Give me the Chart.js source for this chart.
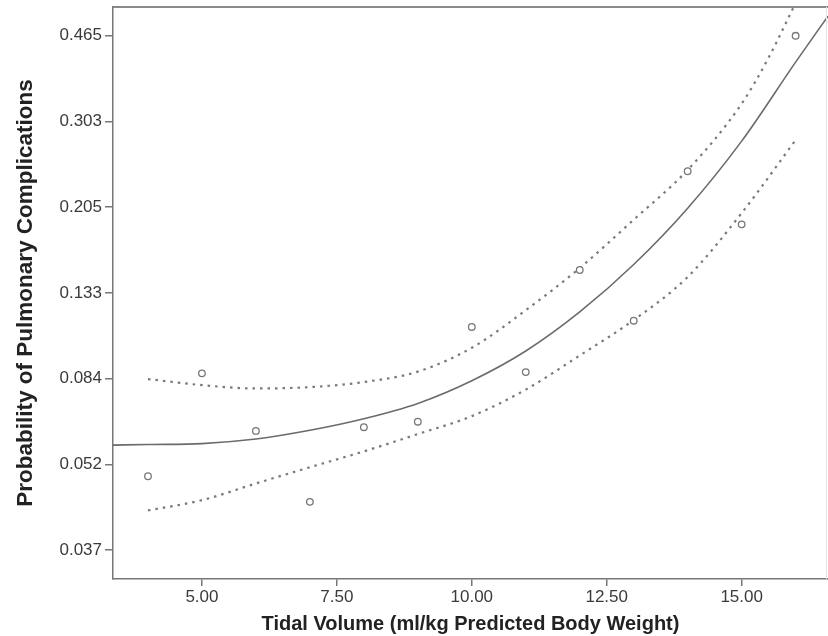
<!DOCTYPE html>
<html>
<head>
<meta charset="utf-8">
<script src="https://cdn.jsdelivr.net/npm/chart.js@4"></script>
<style>
    html, body { margin: 0; padding: 0; background: #fff; }
    #wrap { width: 828px; height: 636px; }
</style>
</head>
<body>
<div id="wrap"><canvas id="probChart"></canvas></div>
<script>
// y axis tick labels (probabilities, equally spaced on the axis)
const yTickLabels = [0.037, 0.052, 0.084, 0.133, 0.205, 0.303, 0.465];
const xTicks = [5, 7.5, 10, 12.5, 15];

// observed proportions
const obsVolume = [4, 5, 6, 7, 8, 9, 10, 11, 12, 13, 14, 15, 16];
const obsProb = [0.0496, 0.0864, 0.0627, 0.0448, 0.0640, 0.0660, 0.1108, 0.0870, 0.1493, 0.1146, 0.2415, 0.1880, 0.465];

// fitted curve
const fitVolume = [3.35, 4, 5, 6, 7, 8, 9, 10, 11, 12, 13, 14, 15, 16, 16.6];
const fitProb = [0.0579, 0.0581, 0.0584, 0.0599, 0.0629, 0.0671, 0.0731, 0.0830, 0.0974, 0.1201, 0.1535, 0.2040, 0.2771, 0.4077, 0.513];

// confidence limits
const upperVolume = [4, 5, 6, 7, 8, 9, 10, 11, 12, 13, 14, 15, 15.5, 16];
const upperProb = [0.0838, 0.0810, 0.0795, 0.0801, 0.0824, 0.0872, 0.0991, 0.1212, 0.1508, 0.1925, 0.2430, 0.3312, 0.4170, 0.548];
const lowerVolume = [4, 5, 6, 7, 8, 9, 10, 11, 12, 13, 14, 15, 16];
const lowerProb = [0.0433, 0.0451, 0.0482, 0.0514, 0.0559, 0.0616, 0.0681, 0.0790, 0.0951, 0.1150, 0.1442, 0.1990, 0.2784];

// probability -> axis position (ticks are evenly spaced, log-interpolated between them)
function toPos(p) {
    const t = yTickLabels;
    let i = 0;
    while (i < t.length - 2 && p > t[i + 1]) i++;
    return i + Math.log(p / t[i]) / Math.log(t[i + 1] / t[i]);
}

function pts(xs, ps) {
    return xs.map((x, i) => ({ x: x, y: toPos(ps[i]) }));
}

const framePlugin = {
    id: 'frame',
    afterDraw(chart) {
        const ctx = chart.ctx;
        const a = chart.chartArea;
        ctx.save();
        ctx.strokeStyle = '#8a8a8a';
        ctx.lineWidth = 2;
        ctx.beginPath();
        ctx.moveTo(a.left, a.top);
        ctx.lineTo(chart.width, a.top);
        ctx.stroke();
        ctx.strokeStyle = '#e2e2e2';
        ctx.lineWidth = 1;
        ctx.beginPath();
        ctx.moveTo(a.right - 1.5, a.top);
        ctx.lineTo(a.right - 1.5, a.bottom);
        ctx.stroke();
        ctx.restore();
    }
};

const fontFamily = '"Liberation Sans", Arial, Helvetica, sans-serif';
const lineCol = '#6b6b6b';
const dashCol = '#7a7a7a';

new Chart(document.getElementById('probChart'), {
    type: 'scatter',
    data: {
        datasets: [
            {
                label: 'Observed',
                data: pts(obsVolume, obsProb),
                showLine: false,
                pointRadius: 3.3,
                pointBorderWidth: 1.3,
                pointBorderColor: '#777',
                pointBackgroundColor: '#fff'
            },
            {
                label: 'Fit',
                data: pts(fitVolume, fitProb),
                showLine: true,
                borderColor: lineCol,
                borderWidth: 1.6,
                pointRadius: 0,
                cubicInterpolationMode: 'monotone'
            },
            {
                label: 'Upper',
                data: pts(upperVolume, upperProb),
                showLine: true,
                borderColor: dashCol,
                borderWidth: 2.2,
                borderDash: [2.5, 5],
                pointRadius: 0,
                cubicInterpolationMode: 'monotone'
            },
            {
                label: 'Lower',
                data: pts(lowerVolume, lowerProb),
                showLine: true,
                borderColor: dashCol,
                borderWidth: 2.2,
                borderDash: [2.5, 5],
                pointRadius: 0,
                cubicInterpolationMode: 'monotone'
            }
        ]
    },
    options: {
        responsive: true,
        maintainAspectRatio: false,
        animation: false,
        layout: { autoPadding: false, padding: { top: 7, right: 0, left: 0, bottom: 0 } },
        plugins: {
            legend: { display: false },
            tooltip: { enabled: false }
        },
        scales: {
            x: {
                type: 'linear',
                min: 3.352,
                max: 16.6,
                afterBuildTicks: function(s) {
                    s.ticks = xTicks.map(v => ({ value: v }));
                },
                afterFit: function(s) {
                    s.height = 57;
                    s.paddingLeft = 0;
                    s.paddingRight = 0;
                },
                ticks: {
                    callback: function(value) { return value.toFixed(2); },
                    font: { family: fontFamily, size: 17 },
                    color: '#3a3a3a',
                    padding: 1,
                    maxRotation: 0,
                    autoSkip: false
                },
                grid: {
                    drawOnChartArea: false,
                    drawTicks: true,
                    tickLength: 7,
                    color: '#777',
                    lineWidth: 1.5
                },
                border: { color: '#777', width: 1.5 },
                title: {
                    display: true,
                    text: 'Tidal Volume (ml/kg Predicted Body Weight)',
                    font: { family: fontFamily, size: 20, weight: 'bold' },
                    color: '#222',
                    padding: { top: 0, bottom: 0 }
                }
            },
            y: {
                type: 'linear',
                min: -0.338,
                max: 6.336,
                afterBuildTicks: function(s) {
                    s.ticks = yTickLabels.map((v, i) => ({ value: i }));
                },
                afterFit: function(s) {
                    s.width = 113;
                    s.paddingTop = 0;
                    s.paddingBottom = 0;
                },
                ticks: {
                    callback: function(value, index) { return yTickLabels[index].toFixed(3); },
                    font: { family: fontFamily, size: 17 },
                    color: '#3a3a3a',
                    padding: 3
                },
                grid: {
                    drawOnChartArea: false,
                    drawTicks: true,
                    tickLength: 8,
                    color: '#777',
                    lineWidth: 1.5
                },
                border: { color: '#777', width: 1.5 },
                title: {
                    display: true,
                    text: 'Probability of Pulmonary Complications',
                    font: { family: fontFamily, size: 22.5, weight: 'bold' },
                    color: '#222',
                    padding: { top: 12, bottom: 0 }
                }
            }
        }
    },
    plugins: [framePlugin]
});
</script>
</body>
</html>
